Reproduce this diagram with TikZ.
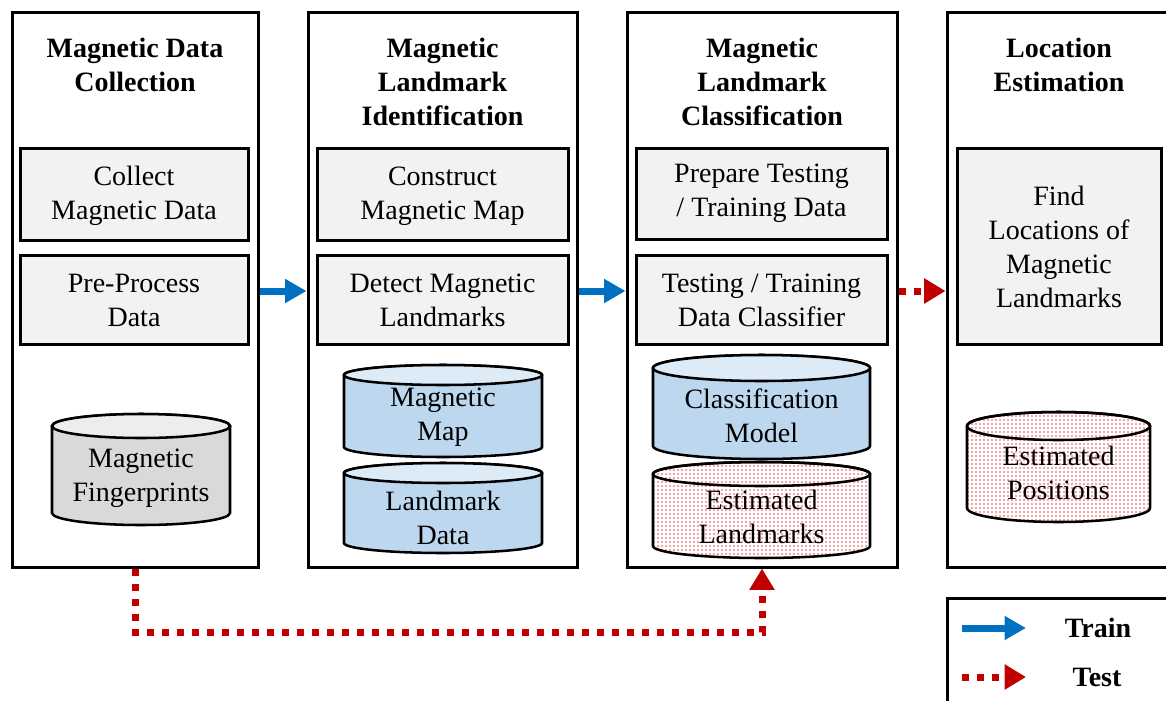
\documentclass[tikz,border=0pt]{standalone}
\usepackage{fontspec}
\setmainfont{Liberation Serif}
\usetikzlibrary{arrows.meta,fit}

\definecolor{trainblue}{HTML}{0070C0}
\definecolor{testred}{HTML}{C00000}
\definecolor{boxgray}{HTML}{F2F2F2}
\definecolor{cylblue}{HTML}{BDD7EE}
\definecolor{cyltopblue}{HTML}{DDEBF7}
\definecolor{cylgray}{HTML}{D9D9D9}
\definecolor{cyltopgray}{HTML}{EDEDED}
\definecolor{dotpink}{HTML}{F4A6A6}

\newcommand\bodyfont{\fontsize{21}{25.5}\selectfont}

% geometry of a database cylinder: left x, right x, top y, bottom y, ellipse half-height (px)
\newcommand\dbsetup[5]{%
  \def\dbxa{#1}\def\dbxb{#2}%
  \pgfmathsetmacro\dbcx{(#1+#2)/2}%
  \pgfmathsetmacro\dbrx{(#2-#1)/2*0.75}%
  \pgfmathsetmacro\dbry{#5*0.75}%
  \pgfmathsetmacro\dbyt{#3+#5}%
  \pgfmathsetmacro\dbyb{#4-#5}%
}
% outline of the whole cylinder
\newcommand\dbpath[1]{%
  \path[#1] (\dbxa,\dbyt) -- (\dbxa,\dbyb)
     arc[start angle=180,end angle=360,x radius=\dbrx pt,y radius=\dbry pt]
     -- (\dbxb,\dbyt)
     arc[start angle=0,end angle=180,x radius=\dbrx pt,y radius=\dbry pt] -- cycle;}
\newcommand\dbtop[1]{%
  \path[#1] (\dbcx,\dbyt) ellipse[x radius=\dbrx pt,y radius=\dbry pt];}

% filled cylinder: geometry + style prefix
\newcommand\drawdb[6]{%
  \dbsetup{#1}{#2}{#3}{#4}{#5}%
  \dbpath{db body,#6 body}%
  \dbtop{db body,#6 top}%
}
% cylinder filled with a fine grid of pink dots
\newcommand\dotdb[5]{%
  \dbsetup{#1}{#2}{#3}{#4}{#5}%
  \dbpath{fill=white}%
  \begin{scope}
    \dbpath{clip}%
    \pgfmathsetmacro\dbnext{#3+4}%
    \foreach \yy in {#3,\dbnext,...,#4} \draw[dotrow] (#1,\yy) -- (#2,\yy);
  \end{scope}
  \dbpath{db body}%
  \dbtop{db body}%
}

\tikzset{
  panel/.style={draw=black, line width=2.25pt, fill=white, inner sep=0pt},
  stepbox/.style={draw=black, line width=2.25pt, fill=boxgray, inner sep=0pt},
  steptext/.style={align=center, font=\bodyfont, inner sep=0pt},
  title/.style={align=center, font=\bfseries\bodyfont, inner sep=0pt},
  dbtext/.style={align=center, font=\bodyfont, inner sep=0pt},
  legendtext/.style={font=\bfseries\bodyfont, inner sep=0pt},
  db body/.style={draw=black, line width=1.9pt},
  store body/.style={fill=cylgray},
  store top/.style={fill=cyltopgray},
  model body/.style={fill=cylblue},
  model top/.style={fill=cyltopblue},
  dotrow/.style={draw=dotpink, line width=1.2pt, dash pattern=on 1.2pt off 1.8pt},
  trainarrow/.style={draw=trainblue, line width=5.25pt,
    -{Triangle[length=16pt,width=17pt]}},
  testarrow/.style={draw=testred, line width=5.25pt, dash pattern=on 5.25pt off 6pt,
    -{Triangle[length=16pt,width=18pt]}},
}

\begin{document}
\begin{tikzpicture}[x=0.75pt,y=-0.75pt]
\useasboundingbox (0,0) rectangle (1166,700);
\clip (0,0) rectangle (1166,700);

% stage panels
\node[panel, fit={(12,12)(258,567)}] (p1) {};
\node[panel, fit={(308,12)(577,567)}] (p2) {};
\node[panel, fit={(627,12)(897,567)}] (p3) {};
\node[panel, fit={(947,12)(1172,567)}] (p4) {};

% stage titles
\node[title] (t1) at (135,65) {Magnetic Data\\Collection};
\node[title] (t2) at (442.5,81.5) {Magnetic\\Landmark\\Identification};
\node[title] (t3) at (762,81.5) {Magnetic\\Landmark\\Classification};
\node[title] (t4) at (1059,65) {Location\\Estimation};

% processing steps
\node[stepbox, fit={(20,148)(248,240)}] (s11) {};
\node[stepbox, fit={(20,255)(248,344)}] (s12) {};
\node[stepbox, fit={(317,148)(568,240)}] (s21) {};
\node[stepbox, fit={(317,255)(568,344)}] (s22) {};
\node[stepbox, fit={(636,148)(887,239)}] (s31) {};
\node[stepbox, fit={(636,255)(887,344)}] (s32) {};
\node[stepbox, fit={(957,148)(1161,344)}] (s41) {};
\node[steptext] (s11t) at ([yshift=-1.5pt]s11.center) {Collect\\Magnetic Data};
\node[steptext] (s12t) at ([yshift=-1pt]s12.center) {Pre-Process\\Data};
\node[steptext] (s21t) at ([yshift=-1.5pt]s21.center) {Construct\\Magnetic Map};
\node[steptext] (s22t) at ([yshift=-1pt]s22.center) {Detect Magnetic\\Landmarks};
\node[steptext] (s31t) at ([yshift=0pt]s31.center) {Prepare Testing\\/ Training Data};
\node[steptext] (s32t) at ([yshift=-1pt]s32.center) {Testing / Training\\Data Classifier};
\node[steptext] (s41t) at ([yshift=-1pt]s41.center) {Find\\Locations of\\Magnetic\\Landmarks};

% data stores
\drawdb{52}{230}{414}{525}{12}{store}
\node[dbtext] (d1) at (141,478) {Magnetic\\Fingerprints};
\drawdb{344}{542}{365}{457}{10}{model}
\node[dbtext] (d2) at (443,417) {Magnetic\\Map};
\drawdb{344}{542}{463}{553}{10}{model}
\node[dbtext] (d3) at (443,518) {Landmark\\Data};
\drawdb{653}{870}{355}{459}{13}{model}
\node[dbtext] (d4) at (761.5,416) {Classification\\Model};
\dotdb{653}{870}{462}{558}{12}
\node[dbtext] (d5) at (761.5,517) {Estimated\\Landmarks};
\dotdb{967}{1150}{412}{522}{14}
\node[dbtext] (d6) at (1058.5,473) {Estimated\\Positions};

% flow between stages
\coordinate (rowA) at (0,291);
\coordinate (rowB) at (0,632);
\draw[trainarrow] (p1.east |- rowA) -- (p2.west |- rowA);
\draw[trainarrow] (p2.east |- rowA) -- (p3.west |- rowA);
\draw[testarrow] (p3.east |- rowA) -- (p4.west |- rowA);
\draw[testarrow] (p1.south) -- (p1.south |- rowB) -| (p3.south);

% legend
\node[panel, fit={(947,598)(1200,720)}] (leg) {};
\coordinate (trainA) at (962,628);
\coordinate (trainB) at (1026,628);
\coordinate (testA) at (962,677);
\coordinate (testB) at (1026,677);
\draw[trainarrow] (trainA) -- (trainB);
\draw[testarrow] (testA) -- (testB);
\node[legendtext] (trainlbl) at (1098,628) {Train};
\node[legendtext] (testlbl) at (1097,677) {Test};
\end{tikzpicture}
\end{document}
